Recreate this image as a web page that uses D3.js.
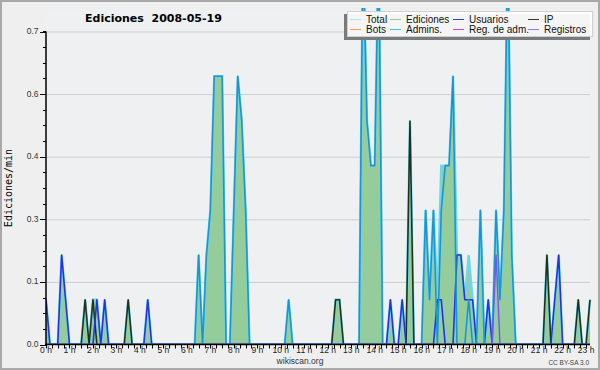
<!DOCTYPE html>
<html>
<head>
<meta charset="utf-8">
<script src="https://cdn.jsdelivr.net/npm/d3@7"></script>
<style>
  body { margin: 0; background: #efefef; }
  svg { display: block; font-family: "Liberation Sans", "DejaVu Sans", sans-serif; }
</style>
</head>
<body>
<div id="chart"></div>
<script>
// one value every 10 minutes, 00:00 .. 23:10 (edits per minute)
var total = [
  0.1,0,0,0,0.2,0.1,0,0,0,0,0.1,0,
  0.1,0.1,0,0.1,0,0,0,0,0,0.1,0,0,
  0,0,0.1,0,0,0,0,0,0,0,0,0,
  0,0,0,0.2,0,0.2,0.3,0.6,0.6,0.6,0,0,
  0.3,0.6,0.5,0.3,0,0,0,0,0,0,0,0,
  0,0,0.1,0,0,0,0,0,0,0,0,0,
  0,0,0.1,0.1,0,0,0,0,0,0.9,0.5,0.4,
  0.4,0.9,0,0,0.1,0,0,0.1,0,0.5,0,0,
  0,0.3,0.1,0.3,0.1,0.4,0.4,0.4,0.6,0.2,0.2,0.1,
  0.2,0.1,0,0.3,0,0.1,0,0.3,0.1,0.3,0.9,0.2,
  0,0,0,0,0,0,0,0,0.2,0,0.1,0.2,
  0,0,0,0,0.1,0,0,0.1
];
var ip = [
  0,0,0,0,0,0,0,0,0,0,0.1,0,
  0.1,0,0,0,0,0,0,0,0,0.1,0,0,
  0,0,0,0,0,0,0,0,0,0,0,0,
  0,0,0,0,0,0,0,0,0,0,0,0,
  0,0,0,0,0,0,0,0,0,0,0,0,
  0,0,0,0,0,0,0,0,0,0,0,0,
  0,0,0.1,0.1,0,0,0,0,0,0,0,0,
  0,0,0,0,0,0,0,0,0,0.5,0,0,
  0,0,0,0,0,0,0,0,0,0,0,0,
  0,0,0,0,0,0,0,0,0,0,0,0,
  0,0,0,0,0,0,0,0,0.2,0,0,0,
  0,0,0,0,0.1,0,0,0.1
];
var usuarios = [
  0.1,0,0,0,0.2,0.1,0,0,0,0,0,0,
  0,0.1,0,0.1,0,0,0,0,0,0,0,0,
  0,0,0.1,0,0,0,0,0,0,0,0,0,
  0,0,0,0,0,0,0,0,0,0,0,0,
  0,0,0,0,0,0,0,0,0,0,0,0,
  0,0,0,0,0,0,0,0,0,0,0,0,
  0,0,0,0,0,0,0,0,0,0,0,0,
  0,0,0,0,0.1,0,0,0.1,0,0,0,0,
  0,0,0,0,0.1,0.1,0,0,0,0.2,0.2,0.1,
  0.1,0.1,0,0,0,0.1,0,0,0,0,0,0,
  0,0,0,0,0,0,0,0,0,0,0.1,0.2,
  0,0,0,0,0,0,0,0
];
var admins = [
  0,0,0,0,0,0,0,0,0,0,0,0,
  0,0,0,0,0,0,0,0,0,0,0,0,
  0,0,0,0,0,0,0,0,0,0,0,0,
  0,0,0,0.2,0,0.2,0.3,0.6,0.6,0.6,0,0,
  0.3,0.6,0.5,0.3,0,0,0,0,0,0,0,0,
  0,0,0.1,0,0,0,0,0,0,0,0,0,
  0,0,0,0,0,0,0,0,0,0.9,0.5,0.4,
  0.4,0.9,0,0,0,0,0,0,0,0,0,0,
  0,0.3,0.1,0.3,0,0.3,0.4,0.4,0.6,0,0,0,
  0.1,0,0,0.3,0,0,0,0.3,0.1,0.3,0.9,0.2,
  0,0,0,0,0,0,0,0,0,0,0,0,
  0,0,0,0,0,0,0,0
];
var registros = [
  0,0,0,0,0,0,0,0,0,0,0,0,
  0,0,0,0,0,0,0,0,0,0,0,0,
  0,0,0,0,0,0,0,0,0,0,0,0,
  0,0,0,0,0,0,0,0,0,0,0,0,
  0,0,0,0,0,0,0,0,0,0,0,0,
  0,0,0,0,0,0,0,0,0,0,0,0,
  0,0,0,0,0,0,0,0,0,0,0,0,
  0,0,0,0,0,0,0,0,0,0,0,0,
  0,0,0,0,0,0,0,0,0,0,0,0,
  0,0,0,0,0,0,0,0.2,0,0,0,0,
  0,0,0,0,0,0,0,0,0,0,0,0,
  0,0,0,0,0,0,0,0
];
var stepMinutes = 10;

// tick values: the graph software rounds them to one decimal
var yTicks = [0, 0.14, 0.28, 0.42, 0.56, 0.70];
var yTickLabels = ["0.0", "0.1", "0.3", "0.4", "0.6", "0.7"];
var hourTicks = d3.range(0, 24);

var legendNames = ["Total", "Ediciones", "Usuarios", "IP", "Bots", "Admins.", "Reg. de adm.", "Registros"];
var legendColors = ["#aee6ea", "#8cd08c", "#3a3ae0", "#333333", "#f0a040", "#3cc4e0", "#cc44dd", "#8a7cf0"];

var width = 600, height = 370,
    margin = {top: 31.5, right: 10, bottom: 25.5, left: 46};

var svg = d3.select("#chart").append("svg")
    .attr("width", width)
    .attr("height", height);

svg.append("rect")
    .attr("x", 1).attr("y", 1)
    .attr("width", width - 2).attr("height", height - 2)
    .attr("fill", "#efefef")
    .attr("stroke", "#a9a9a9")
    .attr("stroke-width", 2);

var toHours = function(i) { return i * stepMinutes / 60; };
var lastHour = toHours(total.length - 1);

var x = d3.scaleLinear()
    .domain([0, lastHour])
    .range([margin.left, width - margin.right]);

var y = d3.scaleLinear()
    .domain([0, 0.7])
    .range([height - margin.bottom, margin.top]);

// plot background
svg.append("rect")
    .attr("x", x(0)).attr("y", 10)
    .attr("width", x(lastHour) - x(0))
    .attr("height", y(0) - 10)
    .attr("fill", "#eef0f2");

// grid
svg.append("g")
  .selectAll("line")
    .data(yTicks.slice(1))
  .enter().append("line")
    .attr("x1", x(0))
    .attr("x2", x(lastHour))
    .attr("y1", function(d) { return y(d) + 0.5; })
    .attr("y2", function(d) { return y(d) + 0.5; })
    .attr("stroke", "#cdcdcd");

svg.append("clipPath")
    .attr("id", "clip")
  .append("rect")
    .attr("x", x(0)).attr("y", 8)
    .attr("width", x(lastHour) - x(0) + 2)
    .attr("height", y(0) - 8);

var plot = svg.append("g").attr("clip-path", "url(#clip)");

var area = d3.area()
    .x(function(d, i) { return x(toHours(i)); })
    .y0(y(0))
    .y1(function(d) { return y(d); });

var line = d3.line()
    .x(function(d, i) { return x(toHours(i)); })
    .y(function(d) { return y(d); });

plot.append("path")
    .datum(total)
    .attr("d", area)
    .attr("fill", "#94cc9c");

plot.append("path")
    .datum(total)
    .attr("d", line)
    .attr("fill", "none")
    .attr("stroke", "#6fd6ea")
    .attr("stroke-width", 2.4);

var series = [
  {data: ip, color: "#1e331f", w: 1.6},
  {data: usuarios, color: "#1f33e8", w: 1.6},
  {data: admins, color: "#1996d2", w: 1.6},
  {data: registros, color: "#7a55e8", w: 1.4}
];

series.forEach(function(s) {
  plot.append("path")
      .datum(s.data)
      .attr("d", line)
      .attr("fill", "none")
      .attr("stroke", s.color)
      .attr("stroke-width", s.w)
      .attr("stroke-linejoin", "round");
});

// x axis
var xAxis = svg.append("g")
    .attr("transform", "translate(0," + y(0) + ")");

xAxis.append("line")
    .attr("x1", x(0) - 1).attr("x2", x(lastHour))
    .attr("stroke", "#000").attr("stroke-width", 1.5);

xAxis.selectAll(".minor")
    .data(d3.range(0, lastHour + 0.01, 0.25))
  .enter().append("line")
    .attr("x1", function(d) { return Math.round(x(d)) + 0.5; })
    .attr("x2", function(d) { return Math.round(x(d)) + 0.5; })
    .attr("y1", 0).attr("y2", 4)
    .attr("stroke", "#000");

xAxis.selectAll("text")
    .data(hourTicks)
  .enter().append("text")
    .attr("x", function(d) { return x(d); })
    .attr("y", 8.5)
    .attr("text-anchor", "middle")
    .style("font-size", "8.5px")
    .attr("fill", "#222")
    .text(function(d) { return d + " h"; });

// y axis
var yAxis = svg.append("g");

yAxis.append("line")
    .attr("x1", x(0)).attr("x2", x(0))
    .attr("y1", y(0)).attr("y2", y(0.7))
    .attr("stroke", "#000").attr("stroke-width", 1.5);

yAxis.selectAll(".minor")
    .data(d3.range(0, 0.7001, 0.035))
  .enter().append("line")
    .attr("x1", x(0) - 3).attr("x2", x(0))
    .attr("y1", function(d) { return Math.round(y(d)) + 0.5; })
    .attr("y2", function(d) { return Math.round(y(d)) + 0.5; })
    .attr("stroke", "#000");

yAxis.selectAll(".major")
    .data(yTicks)
  .enter().append("line")
    .attr("x1", x(0) - 6).attr("x2", x(0))
    .attr("y1", function(d) { return Math.round(y(d)) + 0.5; })
    .attr("y2", function(d) { return Math.round(y(d)) + 0.5; })
    .attr("stroke", "#000");

yAxis.selectAll("text")
    .data(yTicks)
  .enter().append("text")
    .attr("x", x(0) - 7.5)
    .attr("y", function(d) { return y(d); })
    .attr("dy", "0.3em")
    .attr("text-anchor", "end")
    .style("font-size", "8.5px")
    .attr("fill", "#333")
    .text(function(d, i) { return yTickLabels[i]; });

svg.append("text")
    .attr("transform", "translate(12," + 188 + ") rotate(-90)")
    .attr("text-anchor", "middle")
    .style("font-family", "'DejaVu Sans Mono', monospace")
    .style("font-size", "10px")
    .text("Ediciones/min");

// title and credits
svg.append("text")
    .attr("x", 85).attr("y", 21.5)
    .style("font-family", "'DejaVu Sans', sans-serif")
    .style("font-weight", "bold")
    .style("font-size", "11px")
    .style("white-space", "pre")
    .text("Ediciones  2008-05-19");

svg.append("text")
    .attr("x", 300).attr("y", 364)
    .attr("text-anchor", "middle")
    .style("font-size", "8.5px")
    .attr("fill", "#333")
    .text("wikiscan.org");

svg.append("text")
    .attr("x", 589).attr("y", 364.5)
    .attr("text-anchor", "end")
    .style("font-size", "6.5px")
    .attr("fill", "#444")
    .text("CC BY-SA 3.0");

// legend box with shadow
var legend = svg.append("g");

legend.append("rect")
    .attr("x", 344).attr("y", 14)
    .attr("width", 246).attr("height", 26)
    .attr("fill", "#7a7a7a");

legend.append("rect")
    .attr("x", 347.5).attr("y", 11.5)
    .attr("width", 245).attr("height", 25)
    .attr("fill", "#fff")
    .attr("fill-opacity", 0.92)
    .attr("stroke", "#cfcfcf");

var colX = [350, 390, 453, 528];

var item = legend.selectAll(".item")
    .data(legendNames)
  .enter().append("g")
    .attr("transform", function(d, i) {
      return "translate(" + colX[i % 4] + "," + (i < 4 ? 19.5 : 29.5) + ")";
    });

item.append("line")
    .attr("x1", 0).attr("x2", 11)
    .attr("stroke", function(d, i) { return legendColors[i]; })
    .attr("stroke-width", 1);

item.append("text")
    .attr("x", 16)
    .attr("dy", "0.35em")
    .style("font-size", "10px")
    .attr("fill", "#111")
    .text(function(d) { return d; });
</script>
</body>
</html>
